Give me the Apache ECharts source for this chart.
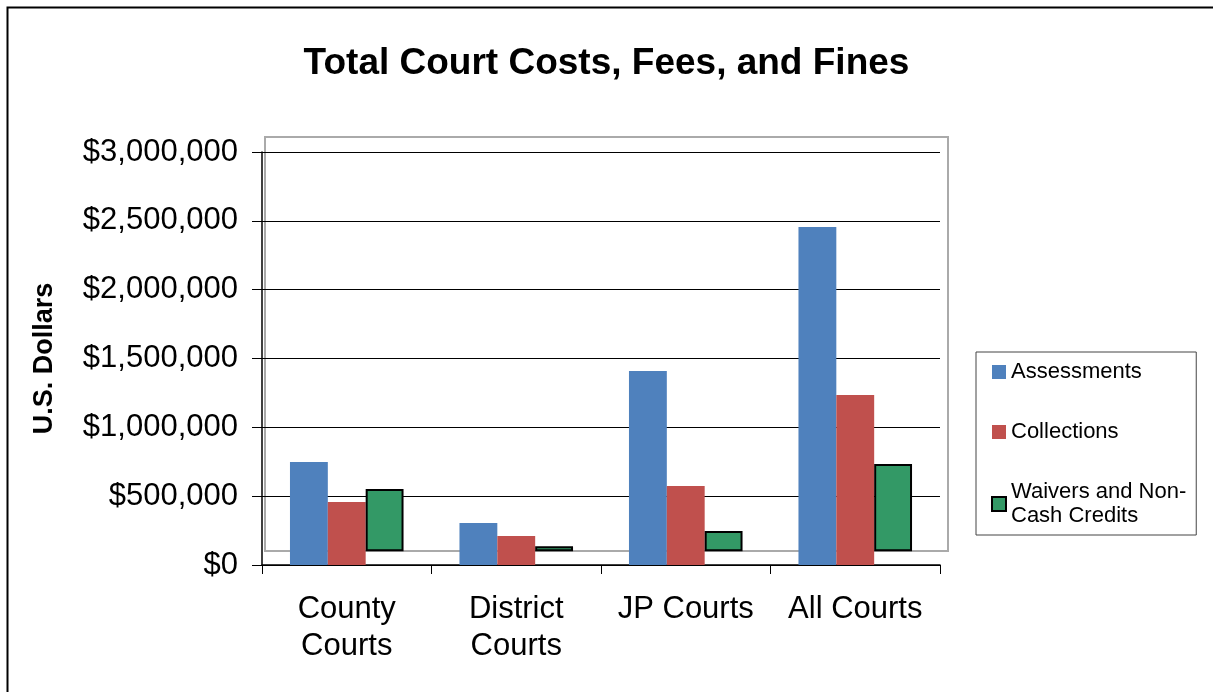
<!DOCTYPE html>
<html>
<head>
<meta charset="utf-8">
<script src="https://cdn.jsdelivr.net/npm/echarts@6/dist/echarts.min.js"></script>
<style>
    html, body { margin: 0; padding: 0; background: #fff; }
    #main { width: 1213px; height: 692px; }
</style>
</head>
<body>
<div id="main"></div>
<script>
// chart values
var categories = ['County\nCourts', 'District\nCourts', 'JP Courts', 'All Courts'];
var assessments = [748000, 305000, 1409000, 2455000];
var collections = [458000, 211000, 574000, 1235000];
var waivers = [552000, 136000, 247000, 734000];
var waiverBase = 100000;   // green bars sit on the grey floor line
var yTicks = [0, 500000, 1000000, 1500000, 2000000, 2500000, 3000000];

var money = function (v) {
    return '$' + String(v).replace(/\B(?=(\d{3})+(?!\d))/g, ',');
};

var baseData = waivers.map(function () { return waiverBase; });
var waiverData = waivers.map(function (v) { return v - waiverBase; });

var font = 'Arial, "Liberation Sans", sans-serif';

var option = {
    backgroundColor: '#fff',
    animation: false,
    textStyle: { fontFamily: font },

    title: {
        text: 'Total Court Costs, Fees, and Fines',
        left: 'center',
        top: 40,
        textStyle: { fontSize: 37, fontWeight: 'bold', color: '#000', fontFamily: font }
    },

    graphic: [
        {
            type: 'rect',
            left: 5, top: 5,
            shape: { width: 1300, height: 800 },
            style: { fill: 'none', stroke: '#000', lineWidth: 2 },
            silent: true
        }
    ],

    legend: {
        orient: 'vertical',
        left: 976,
        top: 352,
        data: ['Assessments', 'Collections', 'Waivers and Non-\nCash Credits'],
        itemWidth: 14,
        itemHeight: 14,
        itemGap: 36,
        icon: 'rect',
        padding: [8, 10, 7, 15],
        borderColor: '#444',
        borderWidth: 1,
        textStyle: { fontSize: 22, color: '#000', fontFamily: font, lineHeight: 24 }
    },

    grid: [
        {   // grey back frame
            left: 265, top: 137, width: 683, height: 414,
            show: true, borderColor: '#aaa', borderWidth: 2, backgroundColor: 'transparent'
        },
        {
            left: 262, top: 152, width: 678, height: 413,
            show: false
        }
    ],

    xAxis: [
        { gridIndex: 0, type: 'category', data: categories, show: false },
        {
            gridIndex: 1,
            type: 'category',
            data: categories,
            axisLine: { lineStyle: { color: '#000', width: 1.5 } },
            axisTick: { show: true, interval: 0, length: 9, lineStyle: { color: '#000' } },
            axisLabel: { interval: 0, fontSize: 31, color: '#000', margin: 26, lineHeight: 37, fontFamily: font }
        }
    ],

    yAxis: [
        { gridIndex: 0, type: 'value', show: false, min: 0, max: 1, splitLine: { show: false } },
        {
            gridIndex: 1,
            type: 'value',
            min: 0,
            max: 3000000,
            interval: 500000,
            name: 'U.S. Dollars',
            nameLocation: 'middle',
            nameGap: 204,
            nameTextStyle: { fontSize: 27, fontWeight: 'bold', color: '#000', fontFamily: font },
            axisLine: { show: true, lineStyle: { color: '#000', width: 1.5 } },
            axisTick: { show: true, length: 10, lineStyle: { color: '#000' } },
            axisLabel: {
                fontSize: 31, color: '#000', margin: 24, fontFamily: font,
                formatter: function (v) { return yTicks.indexOf(v) >= 0 ? money(v) : ''; }
            },
            splitLine: { show: true, lineStyle: { color: '#000', width: 1 } }
        }
    ],

    series: [
        {
            name: 'Assessments',
            type: 'bar',
            xAxisIndex: 1, yAxisIndex: 1,
            data: assessments,
            barGap: '0%',
            barCategoryGap: '33%',
            itemStyle: { color: '#4F81BD' }
        },
        {
            name: 'Collections',
            type: 'bar',
            xAxisIndex: 1, yAxisIndex: 1,
            data: collections,
            itemStyle: { color: '#C0504D' }
        },
        {
            name: 'base',
            type: 'bar',
            stack: 'w',
            xAxisIndex: 1, yAxisIndex: 1,
            data: baseData,
            itemStyle: { color: 'transparent' },
            silent: true
        },
        {
            name: 'Waivers and Non-\nCash Credits',
            type: 'bar',
            stack: 'w',
            xAxisIndex: 1, yAxisIndex: 1,
            data: waiverData,
            itemStyle: { color: '#339966', borderColor: '#000', borderWidth: 2 }
        }
    ]
};

var myChart = echarts.init(document.getElementById('main'));
myChart.setOption(option);
</script>
</body>
</html>
